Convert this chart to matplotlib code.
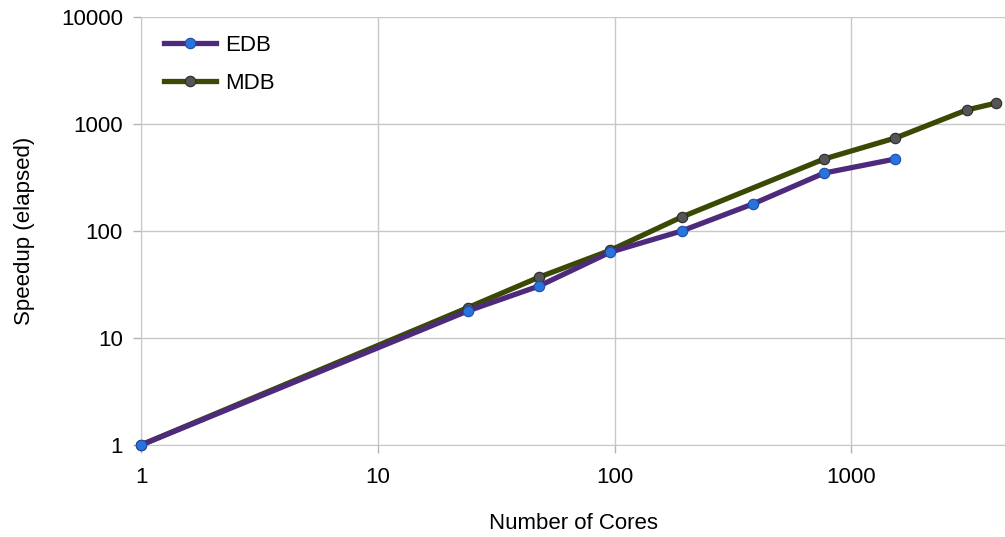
import matplotlib.pyplot as plt
import numpy as np

# speedup data
edb_cores = [1, 24, 48, 96, 192, 384, 768, 1536]
edb_speedup = [1, 17.9, 30.6, 63.5, 100, 179, 348, 471]

mdb_cores = [1, 24, 48, 96, 192, 768, 1536, 3072, 4096]
mdb_speedup = [1, 19.2, 37, 66, 135, 471, 740, 1352, 1570]

plt.rcParams['font.family'] = ['Liberation Sans', 'DejaVu Sans']

fig = plt.figure(figsize=(10.05, 5.37), dpi=100)
ax = fig.add_axes([141/1005, 92/537, 864/1005, 428/537])

ax.plot(edb_cores, edb_speedup, color='#4e2a7c', linewidth=3.8, marker='o',
        markersize=7.5, markerfacecolor='#2a73dc', markeredgecolor='#1a4fa8',
        markeredgewidth=0.8, label='EDB', zorder=3, clip_on=False)
ax.plot(mdb_cores, mdb_speedup, color='#3a4a05', linewidth=3.8, marker='o',
        markersize=7.5, markerfacecolor='#555555', markeredgecolor='#2a2a2a',
        markeredgewidth=0.8, label='MDB', zorder=2, clip_on=False)

ax.set_xscale('log')
ax.set_yscale('log')
ax.set_xlim(1, 4460)
ax.set_ylim(1, 10000)

ax.set_xticks([1, 10, 100, 1000])
ax.set_xticklabels(['1', '10', '100', '1000'])
ax.set_yticks([1, 10, 100, 1000, 10000])
ax.set_yticklabels(['1', '10', '100', '1000', '10000'])
ax.minorticks_off()

ax.grid(True, color='#c8c8c8', linewidth=1)
ax.set_axisbelow(True)
for s in ['top', 'right']:
    ax.spines[s].set_visible(False)
for s in ['left', 'bottom']:
    ax.spines[s].set_color('#c8c8c8')
ax.tick_params(axis='both', colors='#b3b3b3', length=6, width=1,
               labelcolor='black', labelsize=16)
ax.tick_params(axis='x', pad=10)
ax.tick_params(axis='y', pad=7)

ax.set_xlabel('Number of Cores', fontsize=16, labelpad=18)
ax.set_ylabel('Speedup (elapsed)', fontsize=16, labelpad=19)

ax.legend(loc='upper left', frameon=False, fontsize=16,
          bbox_to_anchor=(0.004, 1.005), handlelength=2.3, handletextpad=0.45,
          labelspacing=0.78)

fig.savefig('out.png', dpi=100)
